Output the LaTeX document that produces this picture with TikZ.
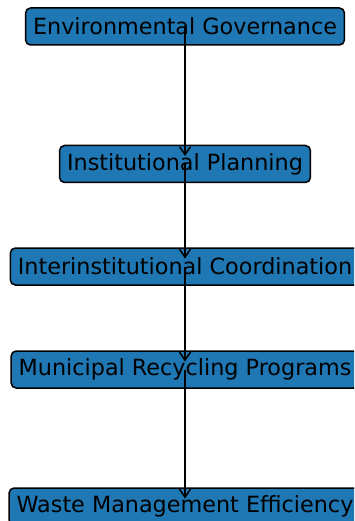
\documentclass[tikz,border=0pt]{standalone}
\usepackage{fontspec}
\setmainfont{DejaVu Sans}
\usetikzlibrary{arrows.meta}
\definecolor{boxblue}{HTML}{1F77B4}
\tikzset{
  box/.style={draw=black, fill=boxblue, line width=1.5pt, rounded corners=5pt,
    inner xsep=7.5pt, inner ysep=0pt, minimum height=37pt,
    font=\fontsize{22.3}{22.3}\selectfont, text=black},
  link/.style={line width=1.8pt, -{Straight Barb[length=8pt,width=11pt,line width=1.5pt]}, shorten >=8pt}
}
\begin{document}
\begin{tikzpicture}[x=1pt,y=-1pt]
\useasboundingbox (0,0) rectangle (354,521);
\clip (0,0) rectangle (354,521);
\node[box] (a) at (185,26.5) {Environmental Governance};
\node[box] (b) at (185,164) {Institutional Planning};
\node[box] (c) at (185,266.5) {Interinstitutional Coordination};
\node[box] (d) at (185,369.5) {Municipal Recycling Programs};
\node[box] (e) at (185,506.5) {Waste Management Efficiency};
\draw[link] (a.center) -- (b.center);
\draw[link] (b.center) -- (c.center);
\draw[link] (c.center) -- (d.center);
\draw[link] (d.center) -- (e.center);
\end{tikzpicture}
\end{document}
